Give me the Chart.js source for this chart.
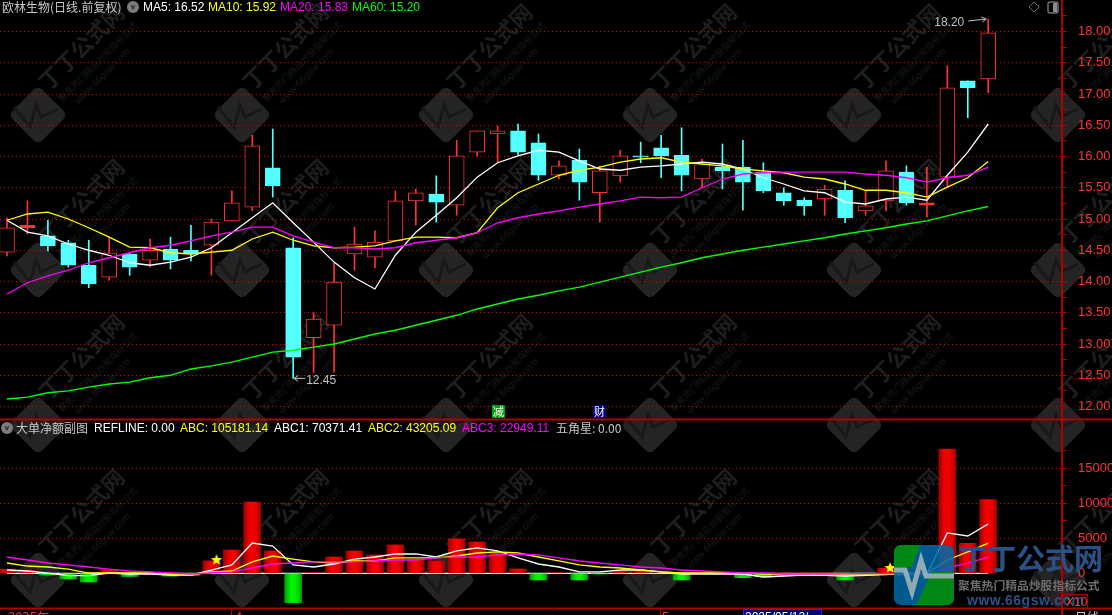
<!DOCTYPE html>
<html>
<head>
<meta charset="utf-8">
<title>欧林生物</title>
<script src="https://cdn.jsdelivr.net/npm/chart.js@4"></script>
<style>
  html, body { margin: 0; background: #000; overflow: hidden; width: 1112px; height: 615px; }
  #wrap { position: relative; width: 1112px; height: 615px; overflow: hidden; }
  canvas { position: absolute; left: 0; top: 0; }
  .t { position: absolute; white-space: pre; font: 12px "Liberation Sans", "Noto Sans CJK SC", sans-serif; line-height: 14px; }
  .cn { color: #c8c8c8; font-family: "Noto Sans CJK SC", sans-serif; }
  .badge { position: absolute; top: 405px; width: 13px; height: 13px; color: #fff; text-align: center; font: 11px/13px "Noto Sans CJK SC", sans-serif; }
  .ico { position: absolute; width: 12px; height: 12px; border-radius: 6px; background: #7c7c7c; color: #222; font: bold 8px/12px "Liberation Sans", sans-serif; text-align: center; }
</style>
</head>
<body>
<div id="wrap">
  <canvas id="myChart" width="1112" height="615"></canvas>

  <span class="t cn" style="left:2px;top:0px">欧林生物(日线.前复权)</span>
  <span class="ico" style="left:127px;top:1px">v</span>
  <span class="t" style="left:143px;top:0px;color:#fff">MA5: 16.52</span>
  <span class="t" style="left:208px;top:0px;color:#ff0">MA10: 15.92</span>
  <span class="t" style="left:280px;top:0px;color:#f0f">MA20: 15.83</span>
  <span class="t" style="left:352px;top:0px;color:#0f0">MA60: 15.20</span>

  <span class="badge" style="left:492px;background:#00a000">减</span>
  <span class="badge" style="left:593px;background:#000080">财</span>

  <span class="ico" style="left:1px;top:422px">v</span>
  <span class="t cn" style="left:16px;top:421px">大单净额副图</span>
  <span class="t" style="left:94px;top:421px;color:#fff">REFLINE: 0.00</span>
  <span class="t" style="left:180px;top:421px;color:#ff0">ABC: 105181.14</span>
  <span class="t" style="left:274px;top:421px;color:#fff">ABC1: 70371.41</span>
  <span class="t" style="left:368px;top:421px;color:#ff0">ABC2: 43205.09</span>
  <span class="t" style="left:462px;top:421px;color:#f0f">ABC3: 22949.11</span>
  <span class="t cn" style="left:556px;top:421px">五角星: 0.00</span>

  <span class="t" style="left:1066px;top:595px;color:#ff3232;font-size:12px">X10</span>

  <span class="t" style="left:8px;top:610px;color:#ff3232;font-size:13px;font-family:'Noto Sans CJK SC'">2025年</span>
  <span class="t" style="left:235px;top:610px;color:#ff3232;font-size:13px">4</span>
  <span class="t" style="left:662px;top:610px;color:#ff3232;font-size:13px">5</span>
  <span class="t" style="left:745px;top:610px;color:#fff;font-size:12px">2025/05/12/</span>
  <span class="t cn" style="left:1075px;top:610px">日线</span>
</div>

<script>
const opens = [14.47, 14.86, 14.73, 14.62, 14.26, 14.07, 14.44, 14.34, 14.52, 14.50, 14.58, 14.97, 15.19, 15.82, 14.54, 13.10, 13.30, 14.44, 14.39, 14.65, 15.29, 15.40, 15.22, 16.07, 16.36, 16.41, 16.22, 15.70, 15.94, 15.42, 15.69, 16.01, 16.14, 16.02, 15.64, 15.83, 15.83, 15.75, 15.42, 15.30, 15.32, 15.46, 15.13, 15.29, 15.75, 15.22, 15.67, 17.21, 17.24];
const closes = [14.86, 14.90, 14.57, 14.26, 13.96, 14.46, 14.23, 14.50, 14.34, 14.45, 14.95, 15.26, 16.17, 15.53, 12.79, 13.40, 13.99, 14.60, 14.63, 15.29, 15.42, 15.27, 16.01, 16.41, 16.41, 16.07, 15.70, 15.85, 15.59, 15.77, 16.01, 15.99, 16.01, 15.70, 15.91, 15.77, 15.59, 15.45, 15.29, 15.21, 15.48, 15.02, 15.21, 15.77, 15.26, 15.26, 17.10, 17.10, 17.98];
const highs = [15.02, 15.29, 14.98, 14.66, 14.66, 14.71, 14.47, 14.68, 14.71, 14.90, 15.00, 15.45, 16.34, 16.44, 14.70, 13.50, 14.30, 14.87, 14.81, 15.45, 15.48, 15.69, 16.26, 16.41, 16.49, 16.52, 16.36, 15.93, 16.12, 15.85, 16.10, 16.23, 16.34, 16.46, 15.96, 16.20, 16.26, 15.90, 15.50, 15.34, 15.54, 15.61, 15.45, 15.93, 15.85, 15.83, 17.45, 17.21, 18.20];
const lows = [14.41, 14.76, 14.49, 14.23, 13.90, 14.02, 14.10, 14.23, 14.20, 14.33, 14.10, 14.97, 15.13, 15.35, 12.45, 12.54, 12.55, 14.18, 14.22, 14.65, 14.90, 14.95, 15.06, 16.01, 15.91, 16.02, 15.62, 15.64, 15.30, 14.95, 15.59, 15.90, 15.66, 15.45, 15.50, 15.48, 15.14, 15.42, 15.22, 15.06, 15.06, 14.94, 15.06, 15.13, 15.22, 15.03, 15.51, 16.62, 17.02];

const ma5 = [14.98, 14.79, 14.73, 14.60, 14.50, 14.42, 14.30, 14.26, 14.31, 14.39, 14.54, 14.78, 15.02, 15.26, 14.94, 14.63, 14.31, 14.06, 13.88, 14.42, 14.79, 15.06, 15.34, 15.67, 15.90, 16.01, 16.10, 16.07, 15.93, 15.80, 15.78, 15.83, 15.85, 15.88, 15.91, 15.88, 15.80, 15.66, 15.56, 15.45, 15.42, 15.27, 15.24, 15.32, 15.35, 15.30, 15.70, 16.07, 16.52];
const ma10 = [14.98, 15.08, 15.11, 15.00, 14.86, 14.71, 14.55, 14.54, 14.46, 14.44, 14.47, 14.50, 14.68, 14.79, 14.66, 14.57, 14.54, 14.55, 14.57, 14.65, 14.71, 14.71, 14.70, 14.78, 15.18, 15.42, 15.56, 15.70, 15.78, 15.83, 15.91, 15.96, 15.98, 15.91, 15.88, 15.85, 15.80, 15.77, 15.74, 15.67, 15.64, 15.56, 15.46, 15.46, 15.42, 15.35, 15.51, 15.66, 15.92];
const ma20 = [13.80, 13.98, 14.09, 14.18, 14.30, 14.38, 14.46, 14.54, 14.58, 14.65, 14.73, 14.79, 14.87, 14.87, 14.73, 14.63, 14.54, 14.54, 14.52, 14.54, 14.62, 14.66, 14.70, 14.78, 14.94, 15.02, 15.08, 15.13, 15.19, 15.24, 15.29, 15.35, 15.34, 15.35, 15.50, 15.64, 15.72, 15.74, 15.75, 15.75, 15.75, 15.75, 15.72, 15.70, 15.66, 15.59, 15.66, 15.70, 15.83];
const ma60 = [12.12, 12.15, 12.22, 12.25, 12.31, 12.36, 12.39, 12.46, 12.50, 12.60, 12.65, 12.71, 12.79, 12.87, 12.90, 12.95, 13.00, 13.08, 13.16, 13.22, 13.30, 13.38, 13.46, 13.56, 13.64, 13.72, 13.78, 13.85, 13.91, 13.99, 14.07, 14.15, 14.23, 14.30, 14.38, 14.44, 14.50, 14.55, 14.60, 14.65, 14.70, 14.76, 14.81, 14.86, 14.92, 14.97, 15.05, 15.13, 15.20];

const netValues = [600, 400, -250, -800, -1240, 480, -450, 50, -400, -300, 1760, 3330, 10190, 3190, -4190, 100, 2330, 3190, 2620, 4050, 2000, 1760, 4900, 4470, 2860, 620, -950, 100, -950, -100, 330, 330, 100, -950, 50, 50, -620, -500, 50, 50, 50, -950, -250, 715, -300, 100, 17760, 4290, 10518];
const abc1 = [470, 330, 40, -340, -340, 40, -100, -100, -240, -240, 470, 1190, 4330, 3900, 1190, 900, 1330, 2040, 2330, 2760, 2760, 2330, 3190, 3620, 3190, 2190, 1330, 900, 190, 190, 470, 470, 190, -100, -100, -100, -100, -530, -390, -240, -300, -390, -300, -200, 40, -100, 5760, 5330, 7037];
const abc2 = [1470, 1040, 900, 610, 40, 40, 40, 40, -100, -240, 190, 330, 1620, 2470, 2040, 1620, 1470, 1760, 1760, 2190, 2190, 2190, 2470, 2900, 3050, 2900, 2330, 1760, 1190, 900, 760, 470, 190, 40, 40, 40, 40, -100, -240, -200, -150, -150, -100, -100, -50, 0, 1900, 3050, 4320];
const abc3 = [2330, 1900, 1470, 1190, 900, 610, 330, 190, 40, -100, 40, 190, 760, 1330, 1470, 1620, 1620, 1620, 1760, 1900, 1900, 2190, 2330, 2330, 2620, 2760, 2620, 2190, 1760, 1470, 1190, 900, 760, 470, 330, 190, 40, 40, -100, -100, -100, -80, -60, -40, -20, 0, 760, 1470, 2295];
const refLine = netValues.map(() => 0);
const starPoints = [{ x: 10.25, y: 1900 }, { x: 43.2, y: 760 }];

const priceTicks = [12, 12.25, 12.5, 12.75, 13, 13.25, 13.5, 13.75, 14, 14.25, 14.5, 14.75, 15, 15.25, 15.5, 15.75, 16, 16.25, 16.5, 16.75, 17, 17.25, 17.5, 17.75, 18, 18.25];
const netTicks = [0, 2500, 5000, 7500, 10000, 12500, 15000, 17500];

const RED = "#ff3232";
const CYAN = "#54ffff";
const AXIS = "#b00000";
const GRID = "#d80000";

const xy = (arr) => arr.map((v, i) => ({ x: i, y: v }));
const isUp = opens.map((o, i) => closes[i] >= o);

// very thin up candles read as a solid dash
const upFill = (i) => (closes[i] - opens[i] < 0.045 ? RED : "#000000");

const starImg = document.createElement("canvas");
starImg.width = 12;
starImg.height = 12;
const sctx = starImg.getContext("2d");
sctx.fillStyle = "#ffff00";
sctx.beginPath();
for (let i = 0; i < 10; i++) {
  const r = i % 2 ? 2.6 : 6;
  const a = -Math.PI / 2 + (i * Math.PI) / 5;
  sctx.lineTo(6 + r * Math.cos(a), 6 + r * Math.sin(a));
}
sctx.fill();

const barFill = (ctx, dark, light) => {
  const px = ctx.chart.scales.x.getPixelForValue(ctx.dataIndex);
  // options get resolved once before the scales have a size
  if (!Number.isFinite(px)) return light;
  const g = ctx.chart.ctx.createLinearGradient(px - 8.5, 0, px + 8.5, 0);
  g.addColorStop(0, dark);
  g.addColorStop(0.35, light);
  g.addColorStop(0.65, light);
  g.addColorStop(1, dark);
  return g;
};

// no label overhang, the panes must fill the whole height
const fitPane = (scale) => {
  scale.width = 50;
  scale.paddingTop = 0;
  scale.paddingBottom = 0;
};

const watermark = {
  id: "watermark",
  beforeDraw(chart) {
    const c = chart.ctx;
    c.save();
    c.fillStyle = "#000";
    c.fillRect(0, 0, 1112, 615);
    for (let row = 0; row < 5; row++) {
      for (let col = 0; col < 6; col++) {
        const x = 38 + col * 204;
        const y = -40 + row * 155;
        c.save();
        c.translate(x, y);
        c.rotate(-Math.PI / 4);
        c.fillStyle = "#242424";
        c.beginPath();
        c.roundRect(-21, -21, 42, 42, 6);
        c.fill();
        c.fillStyle = "#1e1e1e";
        c.font = 'bold 22px "Noto Sans CJK SC"';
        c.fillText("丁丁公式网", 24, -9);
        c.fillStyle = "#1a1a1a";
        c.font = '9px "Noto Sans CJK SC"';
        c.fillText("聚焦热门精品炒股指标公式", 26, 8);
        c.font = '10px "Liberation Sans"';
        c.fillText("www.66gsw.com", 36, 21);
        c.restore();
        c.strokeStyle = "#181818";
        c.lineWidth = 3;
        c.beginPath();
        c.moveTo(x - 24, y - 8);
        c.lineTo(x - 8, y + 12);
        c.lineTo(x - 2, y - 10);
        c.lineTo(x + 3, y + 2);
        c.lineTo(x + 20, y - 6);
        c.stroke();
      }
    }
    c.restore();
  },
};

const overlay = {
  id: "overlay",
  afterDraw(chart) {
    const c = chart.ctx;
    const x = chart.scales.x;
    const y = chart.scales.y;
    c.save();

    // highest and lowest price notes
    const hi = highs.indexOf(Math.max(...highs));
    const lo = lows.indexOf(Math.min(...lows));
    const hx = x.getPixelForValue(hi);
    const hy = y.getPixelForValue(highs[hi]);
    const lx = x.getPixelForValue(lo);
    const ly = y.getPixelForValue(lows[lo]);
    c.font = '12px "Liberation Sans"';
    c.fillStyle = "#c0c0c0";
    c.strokeStyle = "#c0c0c0";
    c.lineWidth = 1;
    c.textBaseline = "middle";
    c.fillText(highs[hi].toFixed(2), hx - 54, hy + 4);
    c.fillText(lows[lo].toFixed(2), lx + 13, ly + 2);
    c.beginPath();
    c.moveTo(hx - 20, hy + 2);
    c.lineTo(hx - 2, hy);
    c.moveTo(hx - 7, hy - 2);
    c.lineTo(hx - 2, hy);
    c.lineTo(hx - 6, hy + 3);
    c.moveTo(lx + 1, ly);
    c.lineTo(lx + 12, ly);
    c.moveTo(lx + 5, ly - 3);
    c.lineTo(lx + 1, ly);
    c.lineTo(lx + 5, ly + 3);
    c.stroke();

    // pane frame lines
    c.strokeStyle = AXIS;
    c.lineWidth = 2;
    c.beginPath();
    c.moveTo(0, 419.5);
    c.lineTo(1112, 419.5);
    c.moveTo(0, 608.5);
    c.lineTo(1112, 608.5);
    c.moveTo(1062, 608);
    c.lineTo(1062, 615);
    c.stroke();
    c.lineWidth = 1;
    c.beginPath();
    c.moveTo(231.5, 608);
    c.lineTo(231.5, 615);
    c.moveTo(338.5, 608);
    c.lineTo(338.5, 611);
    c.moveTo(446.5, 608);
    c.lineTo(446.5, 611);
    c.moveTo(553.5, 608);
    c.lineTo(553.5, 611);
    c.moveTo(660.5, 608);
    c.lineTo(660.5, 615);
    c.stroke();
    c.strokeRect(1062.5, 594.5, 25, 14);
    c.fillStyle = "#000080";
    c.fillRect(743, 609, 79, 6);
    c.strokeStyle = "#2a2ad0";
    c.strokeRect(743.5, 609.5, 78, 7);

    // top right icons
    c.strokeStyle = "#707070";
    c.beginPath();
    c.moveTo(1034, 2);
    c.lineTo(1039, 7);
    c.lineTo(1034, 12);
    c.lineTo(1029, 7);
    c.closePath();
    c.stroke();
    c.lineWidth = 1.5;
    c.beginPath();
    c.roundRect(1048, 2, 10, 11, 2);
    c.stroke();
    c.fillStyle = "#8a8a8a";
    c.fillRect(1053, 3, 4, 9);

    // corner logo
    c.globalAlpha = 0.85;
    c.beginPath();
    c.roundRect(894, 545, 60, 60, 7);
    c.clip();
    c.fillStyle = "#006aa8";
    c.fillRect(894, 545, 60, 60);
    c.fillStyle = "#009000";
    c.beginPath();
    c.moveTo(894, 545);
    c.lineTo(920, 545);
    c.lineTo(912, 567);
    c.lineTo(894, 567);
    c.closePath();
    c.fill();
    c.beginPath();
    c.moveTo(932, 572);
    c.lineTo(954, 572);
    c.lineTo(954, 605);
    c.lineTo(916, 605);
    c.closePath();
    c.fill();
    c.strokeStyle = "#a8b8b8";
    c.lineWidth = 5;
    c.beginPath();
    c.moveTo(894, 570);
    c.lineTo(905, 570);
    c.lineTo(912, 592);
    c.lineTo(921, 560);
    c.lineTo(926, 576);
    c.lineTo(954, 576);
    c.stroke();
    c.restore();

    c.save();
    c.fillStyle = "#2c5085";
    c.font = 'bold 29px "Noto Sans CJK SC"';
    c.textBaseline = "middle";
    c.fillText("丁丁公式网", 958, 559);
    c.fillStyle = "#6e6e6e";
    c.font = 'bold 11.8px "Noto Sans CJK SC"';
    c.fillText("聚焦热门精品炒股指标公式", 958, 586);
    c.fillStyle = "#2c5085";
    c.font = 'bold 14px "Liberation Sans"';
    c.letterSpacing = "0.5px";
    c.fillText("www.66gsw.com", 967, 601);
    c.restore();
  },
};

const config = {
  data: {
    datasets: [
      { type: "line", data: xy(ma5), borderColor: "#ffffff", order: 4, yAxisID: "y" },
      { type: "line", data: xy(ma10), borderColor: "#ffff00", order: 3, yAxisID: "y" },
      { type: "line", data: xy(ma20), borderColor: "#ff00ff", order: 2, yAxisID: "y" },
      { type: "line", data: xy(ma60), borderColor: "#00ff00", order: 1, yAxisID: "y" },
      {
        type: "bar",
        data: opens.map((o, i) => ({ x: i, y: [o, closes[i]] })),
        backgroundColor: isUp.map((u, i) => (u ? upFill(i) : CYAN)),
        borderColor: isUp.map((u) => (u ? RED : CYAN)),
        borderWidth: 1,
        borderSkipped: false,
        maxBarThickness: 15,
        order: 8,
        yAxisID: "y",
      },
      {
        type: "bar",
        data: lows.map((l, i) => ({ x: i, y: [l, highs[i]] })),
        backgroundColor: isUp.map((u) => (u ? RED : CYAN)),
        maxBarThickness: 1,
        order: 9,
        yAxisID: "y",
      },
      {
        type: "line",
        data: starPoints,
        showLine: false,
        pointRadius: 6,
        pointStyle: starImg,
        order: 0,
        yAxisID: "y2",
      },
      { type: "line", data: xy(abc3), borderColor: "#ff00ff", order: 1, yAxisID: "y2" },
      { type: "line", data: xy(abc2), borderColor: "#ffff00", order: 2, yAxisID: "y2" },
      { type: "line", data: xy(abc1), borderColor: "#ffffff", order: 3, yAxisID: "y2" },
      {
        type: "bar",
        data: xy(netValues),
        backgroundColor: (ctx) => {
          if (ctx.dataIndex === undefined) return "#f00000";
          return netValues[ctx.dataIndex] >= 0 ? barFill(ctx, "#a00000", "#f00000") : barFill(ctx, "#00a000", "#00f000");
        },
        maxBarThickness: 17,
        order: 8,
        yAxisID: "y2",
      },
      { type: "line", data: xy(refLine), borderColor: "#ffffff", order: 9, yAxisID: "y2" },
    ],
  },
  options: {
    responsive: false,
    animation: false,
    events: [],
    layout: { autoPadding: false, padding: { bottom: 7 } },
    datasets: {
      bar: { grouped: false, barPercentage: 1, categoryPercentage: 1 },
      line: { borderWidth: 1.3, pointRadius: 0, tension: 0, fill: false },
    },
    plugins: {
      legend: { display: false },
      tooltip: { enabled: false },
    },
    scales: {
      x: {
        type: "linear",
        offset: false,
        min: -0.342,
        max: 51.61,
        display: false,
      },
      y: {
        position: "right",
        stack: "panes",
        stackWeight: 420,
        weight: 1,
        min: 11.784,
        max: 18.504,
        afterBuildTicks: (scale) => {
          scale.ticks = priceTicks.map((v) => ({ value: v }));
        },
        afterFit: fitPane,
        border: { color: AXIS, width: 2, dash: [1, 3] },
        grid: {
          tickLength: 5,
          tickColor: AXIS,
          color: (ctx) => (ctx.tick && ctx.tick.value % 0.5 === 0 ? GRID : "transparent"),
        },
        ticks: {
          color: RED,
          padding: 11,
          crossAlign: "near",
          autoSkip: false,
          maxRotation: 0,
          font: { family: "Liberation Sans", size: 13 },
          callback: (v) => (v % 0.5 === 0 ? v.toFixed(2) : ""),
        },
      },
      y2: {
        position: "right",
        stack: "panes",
        stackWeight: 188,
        weight: 2,
        min: -4957,
        max: 21900,
        afterBuildTicks: (scale) => {
          scale.ticks = netTicks.map((v) => ({ value: v }));
        },
        afterFit: fitPane,
        border: { color: AXIS, width: 2, dash: [1, 3] },
        grid: {
          tickLength: 5,
          tickColor: AXIS,
          color: (ctx) => (ctx.tick && ctx.tick.value % 5000 === 0 && ctx.tick.value !== 0 ? GRID : "transparent"),
        },
        ticks: {
          color: RED,
          padding: 11,
          crossAlign: "near",
          autoSkip: false,
          maxRotation: 0,
          font: { family: "Liberation Sans", size: 13 },
          callback: (v) => (v % 5000 === 0 ? String(v) : ""),
        },
      },
    },
  },
  plugins: [watermark, overlay],
};

const myChart = new Chart(document.getElementById("myChart"), config);
</script>
</body>
</html>
